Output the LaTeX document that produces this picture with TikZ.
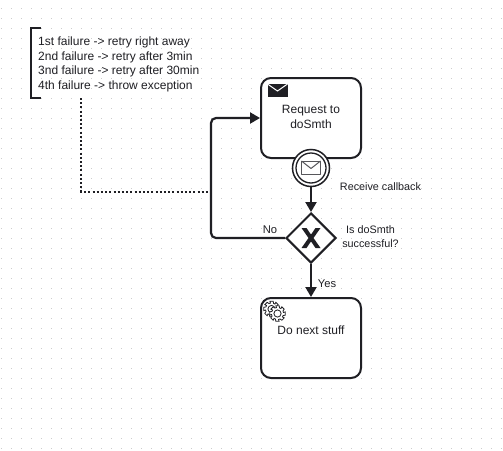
\documentclass[tikz,border=0pt]{standalone}
\usepackage{fontspec}
\setmainfont{Liberation Sans}
\usetikzlibrary{shapes.geometric,arrows.meta,calc}
\definecolor{ink}{HTML}{1F1F24}
\tikzset{
  x=1pt,y=-1pt,
  taskbox/.style={draw=ink,line width=2pt,rounded corners=10pt,minimum width=100pt,minimum height=80pt,inner sep=0pt,fill=white},
  gatebox/.style={draw=ink,line width=2pt,diamond,aspect=1,minimum width=50pt,minimum height=50pt,inner sep=0pt,fill=white},
  evouter/.style={circle,draw=ink,line width=1.5pt,minimum size=37pt,inner sep=0pt,fill=white},
  evinner/.style={circle,draw=ink,line width=1.3pt,minimum size=30pt,inner sep=0pt},
  lbl/.style={font=\fontsize{12pt}{14pt}\selectfont,text=ink,inner sep=0pt,align=center},
  small/.style={font=\fontsize{10.8pt}{14pt}\selectfont,text=ink,inner sep=0pt,align=center},
  flow/.style={draw=ink,line width=2.2pt,-{Triangle[length=10pt,width=11pt]},rounded corners=5pt},
  assoc/.style={draw=ink,line width=2pt,dash pattern=on 2pt off 2.2pt},
  envline/.style={draw=ink!75,line width=1pt,line join=round},
}
\begin{document}
\begin{tikzpicture}
\useasboundingbox (0,0) rectangle (503,450);
\fill[white] (0,0) rectangle (503,450);
\foreach \i in {0,...,50}{\foreach \j in {0,...,44}{
  \fill[black!20] ({1+10*\i-.5},{8+10*\j-.5}) rectangle +(1,1);
}}
% annotation
\coordinate (brtop) at (41,28);
\coordinate (brbot) at (41,98);
\draw[draw=ink,line width=2pt] (brtop) -| (31,98) -- (brbot);
\node[lbl,anchor=north west,align=left,font=\fontsize{12pt}{14.4pt}\selectfont] (note) at (38,37)
  {1st failure -> retry right away\\2nd failure -> retry after 3min\\3nd failure -> retry after 30min\\4th failure -> throw exception};
% nodes
\node[taskbox] (req) at (311,118) {};
\node[lbl,font=\fontsize{12pt}{15pt}\selectfont] (reqt) at (311,117) {Request to\\doSmth};
\node[taskbox] (next) at (311,338) {};
\node[lbl] (nextt) at (311,330) {Do next stuff};
\node[gatebox] (gw) at (311,238) {};
\node[evouter] (ev) at (311,168) {};
\node[evinner] (evi) at (311,168) {};
% X marker
\fill[ink] (gw.center) ++(-9.5,-10) -- ++(5,0) -- ++(4.5,6.6) -- ++(4.5,-6.6) -- ++(5,0) -- ++(-7,10) -- ++(7,10) -- ++(-5,0) -- ++(-4.5,-6.6) -- ++(-4.5,6.6) -- ++(-5,0) -- ++(7,-10) -- cycle;
% flows
\draw[flow] (gw.west) -- (211,238) -- (211,118) -- (req.west);
\draw[flow] (ev.south) -- (gw.north);
\draw[flow] (gw.south) -- (next.north);
\coordinate (assocstart) at (81,98);
\coordinate (assocend) at (208,191.5);
\draw[assoc] (assocstart) |- (assocend);
% event envelope
\draw[envline,fill=white] (301.5,161) rectangle (320.5,174);
\draw[envline] (301.5,161) -- (311,168.5) -- (320.5,161);
% task envelope
\fill[ink] (267.5,83.5) rectangle (287.5,96.5);
\draw[white,line width=1pt] (267.5,84) -- (277.5,91) -- (287.5,84);
% gears
\foreach \cx/\cy in {271.5/309,277.5/313.5}{
  \begin{scope}[shift={(\cx,\cy)}]
  \fill[white,draw=ink,line width=.8pt] (-12:8) \foreach \a in {0,45,...,315}{
     -- (\a-12:8) -- (\a+12:8) -- (\a+20:6) -- (\a+35:6)
  } -- cycle;
  \draw[ink,line width=.8pt] (0,0) circle (3.6);
  \end{scope}
}
% labels
\node[lbl,small] (l1) at (380.5,187) {Receive callback};
\node[lbl,small] (l2) at (370.5,237) {Is doSmth\\successful?};
\node[lbl,font=\fontsize{11.2pt}{14pt}\selectfont] (l3) at (270,230) {No};
\node[lbl,font=\fontsize{11.2pt}{14pt}\selectfont] (l4) at (327,284) {Yes};
\end{tikzpicture}
\end{document}
